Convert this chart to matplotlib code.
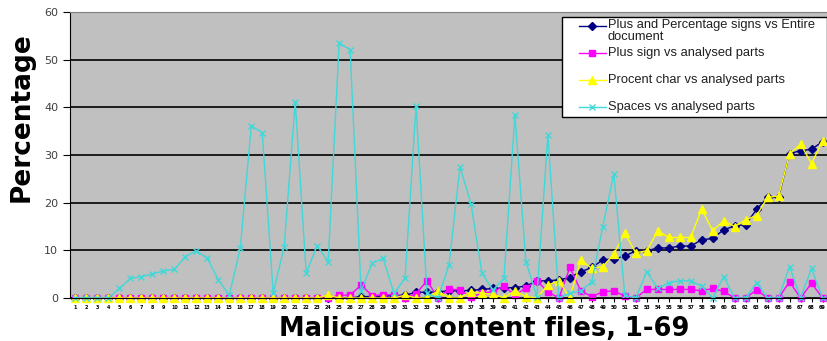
import matplotlib.pyplot as plt
from matplotlib.lines import Line2D
from matplotlib.patches import Rectangle

files = list(range(1, 70))

plus_pct_doc = [0] * 26 + [0.3, 0.3, 0.4, 0.5, 0.6, 1.2, 1.2, 1.3, 1.5, 1.5, 1.6, 1.8, 2.0, 2.1,
                           2.2, 2.5, 3.6, 3.6, 3.8, 4.3, 5.5, 6.4, 8.0, 8.2, 8.8, 9.9, 9.9, 10.5,
                           10.5, 10.9, 10.9, 12.2, 12.5, 14.3, 15.1, 15.4, 18.6, 21.1, 21.1, 30.3,
                           30.9, 31.2, 32.8]
plus_sign = [0] * 24 + [0.6, 0.6, 2.7, 0.5, 0.7, 0.7, 0, 0.9, 3.6, 0, 1.9, 1.7, 0.2, 1.0, 1.3,
                        2.5, 0.6, 2.1, 3.6, 1.3, 0, 6.4, 1.5, 0.3, 1.3, 1.5, 0.4, 0, 1.8, 1.8, 1.8,
                        1.8, 1.8, 1.5, 2.0, 1.4, 0, 0, 1.7, 0, 0, 3.4, 0, 3.1, 0]
procent_char = [0] * 23 + [0.6, 0, 0, 0, 0, 0, 0, 0.6, 0, 0, 1.5, 0, 0, 1.3, 1.0, 0.8, 0, 1.5,
                           0.3, 0, 2.7, 3.6, 0, 8.0, 6.2, 6.6, 9.2, 13.6, 9.5, 9.9, 14.1, 12.7,
                           12.7, 12.7, 18.7, 14.1, 16.2, 15.0, 16.4, 17.3, 21.1, 21.4, 30.2, 32.3,
                           28.2, 32.9]
spaces = [0, 0, 0, 0, 2.0, 4.1, 4.5, 5.0, 5.7, 6.0, 8.7, 9.9, 8.3, 3.8, 0.6, 10.4, 36.1, 34.7,
          1.0, 10.8, 41.2, 5.2, 11.0, 7.6, 53.5, 52.1, 1.5, 7.3, 8.3, 1.0, 4.1, 40.3, 1.0, 0,
          6.9, 27.5, 19.8, 5.2, 1.7, 4.1, 38.4, 7.6, 0.3, 34.2, 0, 1.0, 1.5, 3.4, 15.0, 26.1,
          0.6, 0, 5.5, 2.0, 3.2, 3.6, 3.6, 2.5, 0, 4.5, 0, 0, 3.2, 0, 0, 6.6, 0, 6.2, 0]

series = [
    ("Plus and Percentage signs vs Entire\ndocument", plus_pct_doc,
     dict(color="#000080", marker="D", markersize=4)),
    ("Plus sign vs analysed parts", plus_sign,
     dict(color="#FF00FF", marker="s", markersize=5)),
    ("Procent char vs analysed parts", procent_char,
     dict(color="#FFFF00", marker="^", markersize=6)),
    ("Spaces vs analysed parts", spaces,
     dict(color="#40D8D8", marker="x", markersize=4, mew=1)),
]

W, H = 828, 341
fig = plt.figure(figsize=(W / 100, H / 100), dpi=100)
ax = fig.add_axes([70 / W, 43 / H, 758 / W, 286 / H])
ax.set_facecolor("#C0C0C0")

for label, values, style in series:
    ax.plot(files, values, lw=1, clip_on=False, label=label, **style)

ax.set_xlim(0.5, 69.5)
ax.set_ylim(0, 60)
ax.set_yticks(range(0, 61, 10))
ax.yaxis.grid(True, color="black", lw=1.2)
ax.set_axisbelow(True)
ax.set_xticks(files)
ax.set_xticklabels([str(f) for f in files], fontsize=3.5, fontweight="bold")
ax.tick_params(axis="x", length=3, pad=2)
ax.tick_params(axis="y", length=5, labelsize=8, labelcolor="#404040")

ax.spines["top"].set_color("#808080")
ax.spines["right"].set_visible(False)

fig.text(22 / W, 1 - 117 / H, "Percentage", rotation=90, fontsize=19,
         fontweight="bold", ha="center", va="center")
fig.text(484 / W, 1 - 336 / H, "Malicious content files, 1-69", fontsize=18.5,
         fontweight="bold", ha="center", va="baseline")


# legend box drawn by hand so the rows keep Excel's even spacing
def fx(px):
    return px / W


def fy(py):
    return 1 - py / H


fig.add_artist(Rectangle((fx(562), fy(117)), fx(827) - fx(562), fy(17) - fy(117),
                         transform=fig.transFigure, facecolor="white",
                         edgecolor="black", lw=1, zorder=5))
rows = [26, 53, 80, 107]
for (label, _, style), ry in zip(series, rows):
    fig.add_artist(Line2D([fx(579), fx(606)], [fy(ry), fy(ry)], lw=1,
                          color=style["color"], transform=fig.transFigure, zorder=6))
    fig.add_artist(Line2D([fx(592)], [fy(ry)], lw=0, transform=fig.transFigure,
                          zorder=6, **style))
    if "\n" in label:
        fig.text(fx(608), fy(ry - 7), label, fontsize=9.3, family="Liberation Sans",
                 color="#202020", va="top", ha="left", linespacing=1.05, zorder=7)
    else:
        fig.text(fx(608), fy(ry), label, fontsize=9.3, family="Liberation Sans",
                 color="#202020", va="center", ha="left", zorder=7)

fig.savefig("out.png", dpi=100)
